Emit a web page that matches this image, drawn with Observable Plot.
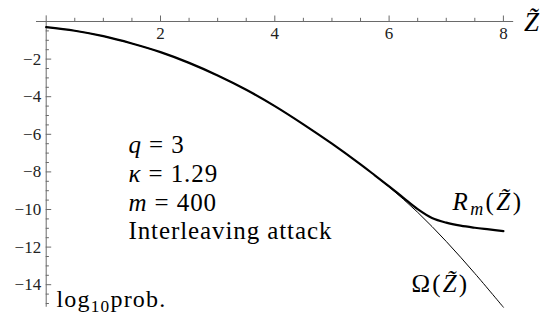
<!DOCTYPE html>
<html>
<head>
<meta charset="utf-8">
<script src="https://cdn.jsdelivr.net/npm/d3@7"></script>
<script src="https://cdn.jsdelivr.net/npm/@observablehq/plot@0.6"></script>
<style>
  html, body { margin: 0; padding: 0; background: #fff; }
  #chart svg { display: block; }
</style>
</head>
<body>
<div id="chart"></div>
<script>
// Abscissa samples (Z̃) and log10 probabilities for the asymptotic curve Ω(Z̃)
const omegaZ = [0, 0.5, 1, 1.5, 2, 2.5, 3, 3.5, 4, 4.5, 5, 5.5, 6, 6.5, 7, 7.5, 8];
const omegaLog = [-0.30, -0.49, -0.78, -1.17, -1.63, -2.20, -2.87, -3.63, -4.50, -5.47, -6.50, -7.60, -8.80, -10.15, -11.70, -13.40, -15.20];

// Finite-m curve R_m(Z̃)
const rZ = [0, 0.5, 1, 1.5, 2, 2.5, 3, 3.5, 4, 4.5, 5, 5.5, 5.75, 6, 6.25, 6.5, 6.75, 7, 7.25, 7.5, 7.75, 8];
const rLog = [-0.30, -0.49, -0.78, -1.17, -1.63, -2.20, -2.87, -3.63, -4.50, -5.47, -6.50, -7.60, -8.18, -8.77, -9.38, -9.98, -10.45, -10.70, -10.86, -10.97, -11.06, -11.15];

// Axis ticks
const xMajorTicks = [2, 4, 6, 8];
const xMinorTicks = [0.5, 1, 1.5, 2.5, 3, 3.5, 4.5, 5, 5.5, 6.5, 7, 7.5];
const yMajorTicks = [-2, -4, -6, -8, -10, -12, -14];
const yMinorTicks = [-0.5, -1, -1.5, -2.5, -3, -3.5, -4.5, -5, -5.5, -6.5, -7, -7.5, -8.5, -9, -9.5, -10.5, -11, -11.5, -12.5, -13, -13.5, -14.5, -15];

// Parameter block
const paramLines = ["q = 3", "κ = 1.29", "m = 400", "Interleaving attack"];

const serif = "Liberation Serif";
const axisColor = "#6a6a6a";

const xRange = [45.7, 502.9];
const yRange = [21, 284.2];
const xDomain = [0, 8];
const yDomain = [0, -14];
// pixel lengths expressed in data units for tick marks
const pxX = (xDomain[1] - xDomain[0]) / (xRange[1] - xRange[0]);
const pxY = (yDomain[0] - yDomain[1]) / (yRange[1] - yRange[0]);

const chart = Plot.plot({
  width: 544,
  height: 321,
  margin: 0,
  x: { domain: xDomain, range: xRange, axis: null },
  y: { domain: yDomain, range: yRange, axis: null },
  style: { background: "#fff", overflow: "visible", fontFamily: serif },
  marks: [
    // axes crossing at the origin
    Plot.ruleY([0], { x1: -0.17, x2: 8.18, stroke: axisColor, strokeWidth: 1 }),
    Plot.ruleX([0], { y1: 0.3, y2: -15.2, stroke: axisColor, strokeWidth: 1 }),
    // x ticks point up from the axis
    Plot.ruleX(xMajorTicks, { x: d => d, y1: 0, y2: 5.5 * pxY, stroke: axisColor }),
    Plot.ruleX(xMinorTicks, { x: d => d, y1: 0, y2: 3.2 * pxY, stroke: axisColor }),
    // y ticks point right from the axis
    Plot.ruleY(yMajorTicks, { y: d => d, x1: 0, x2: 5.5 * pxX, stroke: axisColor }),
    Plot.ruleY(yMinorTicks, { y: d => d, x1: 0, x2: 3.2 * pxX, stroke: axisColor }),
    // tick labels
    Plot.text(xMajorTicks, {
      x: d => d, y: 0, dy: 12, text: d => String(d),
      fontFamily: serif, fontSize: 17, fill: "#222", lineAnchor: "middle"
    }),
    Plot.text(yMajorTicks, {
      x: 0, y: d => d, dx: -5, text: d => "\u2212" + Math.abs(d),
      fontFamily: serif, fontSize: 17, fill: "#222", textAnchor: "end", lineAnchor: "middle"
    }),
    // curves
    Plot.line(omegaZ.map((z, i) => ({ z, v: omegaLog[i] })), {
      x: "z", y: "v", stroke: "#000", strokeWidth: 1, curve: "catmull-rom"
    }),
    Plot.line(rZ.map((z, i) => ({ z, v: rLog[i] })), {
      x: "z", y: "v", stroke: "#000", strokeWidth: 2.2, curve: "catmull-rom"
    }),
    // parameter block
    Plot.text(paramLines, {
      x: 1.44, y: (d, i) => -7.0 - i * 1.53, text: d => d,
      fontFamily: serif, fontSize: 25, fill: "#000", textAnchor: "start", lineAnchor: "bottom"
    }),
    // curve labels
    Plot.text(["Rm(Z̃)"], {
      x: 7.11, y: -10.05, text: d => d,
      fontFamily: serif, fontSize: 25, fill: "#000", textAnchor: "start", lineAnchor: "bottom"
    }),
    Plot.text(["Ω(Z̃)"], {
      x: 6.39, y: -14.4, text: d => d,
      fontFamily: serif, fontSize: 25, fill: "#000", textAnchor: "start", lineAnchor: "bottom"
    }),
    // axis labels
    Plot.text(["Z̃"], {
      x: 8.36, y: -0.5, text: d => d,
      fontFamily: serif, fontSize: 27, fill: "#000", textAnchor: "start", lineAnchor: "bottom"
    }),
    Plot.text(["log10prob."], {
      x: 0.18, y: -15.16, text: d => d,
      fontFamily: serif, fontSize: 24, fill: "#000", textAnchor: "start", lineAnchor: "bottom"
    })
  ]
});

// Typeset the math-style labels: italic variables, subscripts, letter spacing
const rich = {
  "q = 3": { spacing: 0.9, parts: [["q", "i"], [" = 3"]] },
  "κ = 1.29": { spacing: 0.9, parts: [["κ", "i"], [" = 1.29"]] },
  "m = 400": { spacing: 0.9, parts: [["m", "i"], [" = 400"]] },
  "Interleaving attack": { spacing: 0.9, parts: [["Interleaving attack"]] },
  "Rm(Z̃)": { spacing: 2.4, parts: [["R", "i"], ["m", "i", "sub"], ["("], ["Z̃", "i"], [")"]] },
  "Ω(Z̃)": { spacing: 2.2, parts: [["Ω"], ["("], ["Z̃", "i"], [")"]] },
  "Z̃": { spacing: 0, parts: [["Z̃", "i"]] },
  "log10prob.": { spacing: 1.2, parts: [["log"], ["10", "", "sub"], ["prob."]] }
};

d3.select(chart).selectAll("text")
  .style("font-variant", "normal")
  .each(function () {
    const key = this.textContent;
    const spec = rich[key];
    if (!spec) return;
    const el = d3.select(this);
    el.text(null).style("letter-spacing", spec.spacing + "px");
    let shifted = false;
    for (const [t, style, pos] of spec.parts) {
      const ts = el.append("tspan").text(t);
      if (style === "i") ts.attr("font-style", "italic");
      if (pos === "sub") {
        ts.attr("font-size", "0.72em").attr("dy", "5px");
        shifted = true;
      } else if (shifted) {
        ts.attr("dy", "-5px");
        shifted = false;
      }
    }
  });

document.getElementById("chart").append(chart);
</script>
</body>
</html>
